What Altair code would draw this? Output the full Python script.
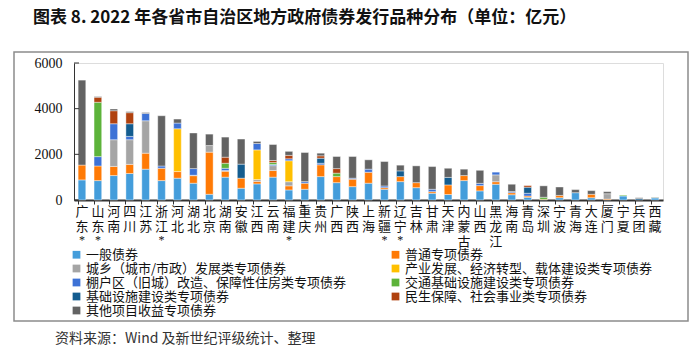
import altair as alt
import pandas as pd

regions = ["广东", "山东", "河南", "四川", "江苏", "浙江", "河北", "湖北", "北京", "湖南",
           "安徽", "江西", "云南", "福建", "重庆", "贵州", "广西", "陕西", "上海", "新疆",
           "辽宁", "吉林", "甘肃", "天津", "内蒙古", "山西", "黑龙江", "海南", "青岛", "深圳",
           "宁波", "青海", "大连", "厦门", "宁夏", "兵团", "西藏"]
starred = ["广东", "山东", "浙江", "福建", "新疆", "辽宁"]

series_names = ["一般债券", "普通专项债券", "城乡（城市/市政）发展类专项债券",
                "产业发展、经济转型、载体建设类专项债券", "棚户区（旧城）改造、保障性住房类专项债券",
                "交通基础设施建设类专项债券", "基础设施建设类专项债券",
                "民生保障、社会事业类专项债券", "其他项目收益专项债券"]

colors = ["#449DDB", "#FF7A05", "#A5A5A5", "#FFC000", "#3D72D6",
          "#5DB33A", "#135C8F", "#B0420F", "#636363"]

general =    [880, 850, 1070, 1160, 1350, 850, 955, 735, 250, 1000, 515, 705, 1000, 440, 470, 1025, 760, 585, 735, 470, 805, 540, 295, 240, 850, 400, 690, 230, 120, 0, 100, 320, 100, 0, 175, 0, 90]
ordinary =   [650, 640, 400, 400, 700, 540, 290, 330, 1845, 260, 440, 110, 290, 180, 265, 515, 265, 325, 480, 70, 220, 220, 70, 420, 220, 230, 110, 90, 55, 30, 100, 0, 150, 40, 0, 0, 0]
urban =      [0, 0, 1170, 1080, 1420, 0, 0, 20, 290, 30, 0, 80, 215, 180, 0, 0, 0, 0, 0, 0, 0, 0, 0, 0, 0, 0, 300, 0, 0, 0, 0, 0, 0, 235, 0, 0, 0]
industry =   [0, 0, 0, 0, 0, 0, 1875, 0, 0, 0, 0, 1300, 0, 920, 0, 0, 0, 0, 0, 0, 0, 0, 0, 0, 0, 0, 0, 0, 0, 0, 0, 0, 0, 0, 0, 0, 0]
shanty =     [0, 410, 700, 145, 320, 100, 250, 290, 0, 100, 0, 280, 50, 85, 70, 70, 0, 45, 135, 75, 0, 0, 105, 0, 0, 100, 120, 50, 120, 0, 0, 0, 0, 0, 0, 0, 0]
transport =  [0, 2380, 0, 0, 0, 0, 0, 0, 0, 220, 0, 0, 85, 0, 0, 0, 150, 0, 0, 0, 0, 0, 0, 0, 0, 0, 0, 0, 0, 90, 0, 0, 0, 0, 35, 0, 20]
infra =      [0, 0, 0, 555, 0, 0, 0, 0, 0, 0, 615, 0, 0, 0, 0, 220, 0, 0, 0, 0, 250, 0, 0, 330, 0, 0, 0, 0, 265, 0, 0, 0, 0, 0, 0, 60, 0]
livelihood = [0, 220, 570, 485, 0, 0, 0, 0, 0, 265, 0, 0, 90, 150, 0, 105, 200, 0, 0, 0, 0, 0, 0, 0, 0, 0, 0, 0, 70, 0, 0, 0, 0, 0, 0, 0, 0]
other =      [3720, 30, 75, 45, 40, 2200, 175, 1560, 500, 880, 1100, 90, 700, 175, 1275, 115, 530, 950, 410, 1070, 250, 735, 995, 400, 280, 570, 0, 320, 0, 500, 370, 135, 160, 90, 0, 40, 20]

y_ticks = [0, 2000, 4000, 6000]
title_text = "图表 8. 2022 年各省市自治区地方政府债券发行品种分布（单位：亿元）"
source_text = "资料来源：Wind 及新世纪评级统计、整理"

series_values = [general, ordinary, urban, industry, shanty, transport, infra, livelihood, other]
rows = []
for i, r in enumerate(regions):
    for k, vals in enumerate(series_values):
        if vals[i] > 0:
            rows.append({"region": r, "type": series_names[k], "value": vals[i], "k": k})
df = pd.DataFrame(rows)

# legend lays entries out column by column: left column = even entries, right = odd
legend_order = series_names[0::2] + series_names[1::2]
legend_colors = colors[0::2] + colors[1::2]

CJK = "Noto Sans CJK SC"
SERIF = "Liberation Serif"
W, H = 589, 137

y_scale = alt.Scale(domain=[0, 6000], nice=False)
y_axis = alt.Axis(title=None, values=y_ticks, grid=False, tickSize=0, format="d",
                  labelPadding=12, labelFont=SERIF, labelFontSize=14,
                  labelColor="#111", domainColor="#333")
x_scale = alt.Scale(domain=regions, paddingInner=0.52, paddingOuter=0.26)

bars = alt.Chart(df).mark_bar(stroke="white", strokeWidth=0.4).encode(
    x=alt.X("region:N", sort=regions, scale=x_scale,
            axis=alt.Axis(title=None, labelAngle=0, labelExpr="split(datum.value, '')",
                          labelLineHeight=15, labelFont=CJK, labelFontSize=13,
                          labelColor="#111", labelOverlap=False, bandPosition=0,
                          tickSize=4, tickColor="#333", domainColor="#333",
                          domainWidth=2, labelPadding=1, labelBaseline="top")),
    y=alt.Y("value:Q", stack="zero", scale=y_scale, axis=y_axis),
    color=alt.Color("type:N", scale=alt.Scale(domain=legend_order, range=legend_colors),
                    legend=alt.Legend(title=None, orient="none", legendX=-4, legendY=185,
                                      columns=2, columnPadding=42, rowPadding=-1.5,
                                      symbolType="square", symbolSize=60,
                                      symbolStrokeWidth=0, labelFont=CJK,
                                      labelFontSize=13, labelColor="#111",
                                      labelOffset=3, labelLimit=400)),
    order=alt.Order("k:Q", sort="ascending"),
)

ticks = alt.Chart(pd.DataFrame({"value": y_ticks})).mark_rule(color="#333", strokeWidth=1).encode(
    x=alt.value(0), x2=alt.value(5), y=alt.Y("value:Q", scale=y_scale, axis=y_axis)
)

stars = alt.Chart(pd.DataFrame({"region": starred, "s": ["*"] * len(starred)})).mark_text(
    font=SERIF, fontSize=12, color="#111", baseline="middle"
).encode(x=alt.X("region:N", scale=x_scale, sort=regions), y=alt.value(H + 40), text="s:N")

frame = alt.Chart(pd.DataFrame({"a": [0]})).mark_rect(
    fillOpacity=0, stroke="#8c8c8c", strokeWidth=1.5
).encode(x=alt.value(-60), x2=alt.value(614), y=alt.value(-11), y2=alt.value(258))

title = alt.Chart(pd.DataFrame({"t": [title_text]})).mark_text(
    align="left", baseline="middle", font=CJK, fontSize=17, fontWeight="bold", color="#111"
).encode(x=alt.value(-41), y=alt.value(-45), text="t:N")

source = alt.Chart(pd.DataFrame({"t": [source_text]})).mark_text(
    align="left", baseline="middle", font=CJK, fontSize=14, color="#333"
).encode(x=alt.value(-19), y=alt.value(276), text="t:N")

chart = alt.layer(frame, bars, ticks, stars, title, source).properties(
    width=W, height=H,
    autosize=alt.AutoSizeParams(type="none"),
    padding={"left": 74, "top": 63, "right": 37, "bottom": 152},
).configure_view(stroke=None).configure(background="white")

chart.save("out.html", embed_options={"renderer": "svg", "actions": False})
